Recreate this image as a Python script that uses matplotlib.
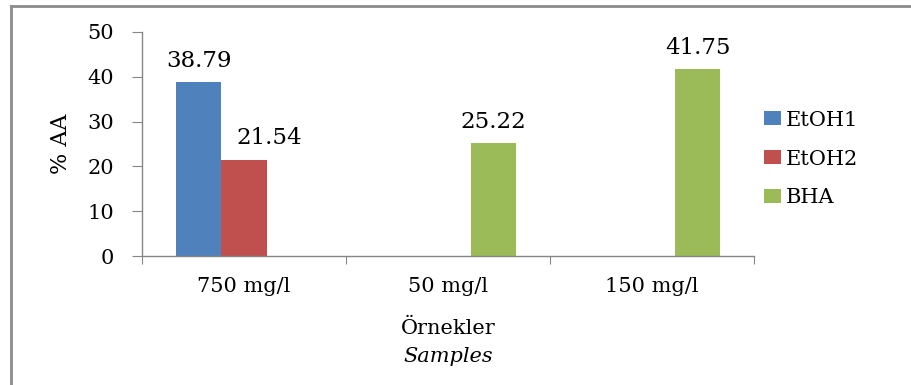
import numpy as np
import matplotlib.pyplot as plt
from matplotlib.lines import Line2D

plt.rcParams['font.family'] = ['DejaVu Serif']

# concentrations on the x axis and %AA for each extract
kategoriler = ['750 mg/l', '50 mg/l', '150 mg/l']
etoh1 = [38.79, np.nan, np.nan]
etoh2 = [21.54, np.nan, np.nan]
bha = [np.nan, 25.22, 41.75]
seriler = ['EtOH1', 'EtOH2', 'BHA']
renkler = ['#4F81BD', '#C0504D', '#9BBB59']
# horizontal nudge of the value labels (points), keeps 21.54 clear of the blue bar
etiket_kayma = [0, 18, 0]

fig = plt.figure(figsize=(9.12, 3.85), dpi=100)
ax = fig.add_axes([0.1557, 0.335, 0.6711, 0.5819])

x = np.arange(len(kategoriler))
w = 0.223
for i, (degerler, ad, renk) in enumerate(zip([etoh1, etoh2, bha], seriler, renkler)):
    konum = x + (i - 1) * w
    ax.bar(konum, np.nan_to_num(degerler), width=w, color=renk, label=ad)
    for xi, v in zip(konum, degerler):
        if not np.isnan(v):
            ax.annotate(f'{v:.2f}', (xi, v), xytext=(etiket_kayma[i], 11),
                        textcoords='offset points', ha='center', va='baseline',
                        fontsize=16.5)

ax.set_xlim(-0.5, 2.5)
ax.set_ylim(0, 50)
ax.set_yticks(range(0, 51, 10))

# category separators as major ticks, names on minor ticks
ax.set_xticks([-0.5, 0.5, 1.5, 2.5])
ax.set_xticklabels([])
ax.set_xticks(x, minor=True)
ax.set_xticklabels(kategoriler, minor=True)
ax.tick_params(axis='x', which='major', length=6, color='#868686', direction='out')
ax.tick_params(axis='x', which='minor', length=0, pad=15, labelsize=15)
ax.tick_params(axis='y', length=7, color='#868686', direction='out', pad=13, labelsize=15)

for s in ['top', 'right']:
    ax.spines[s].set_visible(False)
for s in ['left', 'bottom']:
    ax.spines[s].set_color('#868686')
    ax.spines[s].set_linewidth(1.0)

ax.set_ylabel('% AA', fontsize=16, labelpad=11)
fig.text(0.491, 1 - 328 / 385, 'Örnekler', ha='center', va='center', fontsize=15)
fig.text(0.491, 1 - 356 / 385, 'Samples', ha='center', va='center', fontsize=15, style='italic')

ax.legend(loc='center left', bbox_to_anchor=(0.838, 0.587), bbox_transform=fig.transFigure,
          frameon=False, fontsize=15, handlelength=0.8, handleheight=0.65,
          handletextpad=0.25, labelspacing=0.95, borderpad=0, borderaxespad=0)

# chart area border (top and left edges only)
fig.add_artist(Line2D([11 / 912, 11 / 912], [0, 1 - 6 / 385], color='#8C8C8C', lw=2,
                      transform=fig.transFigure))
fig.add_artist(Line2D([11 / 912, 1], [1 - 6 / 385, 1 - 6 / 385], color='#8C8C8C', lw=2,
                      transform=fig.transFigure))

fig.savefig('out.png', dpi=100)
